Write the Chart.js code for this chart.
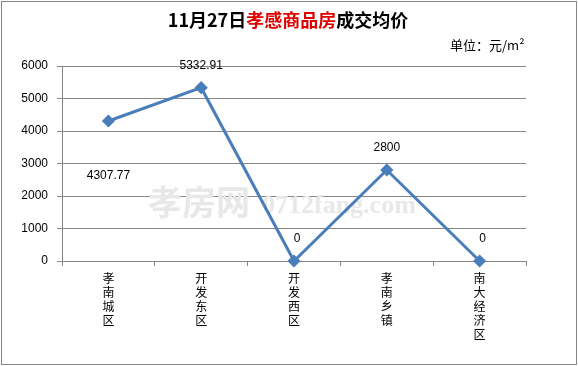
<!DOCTYPE html>
<html>
<head>
<meta charset="utf-8">
<script src="https://cdn.jsdelivr.net/npm/chart.js@4"></script>
<style>
  html, body { margin: 0; padding: 0; background: #fff; }
  #wrap { width: 578px; height: 366px; position: relative; }
</style>
</head>
<body>
<div id="wrap"><canvas id="myChart"></canvas></div>
<script>
const categories = ['孝南城区', '开发东区', '开发西区', '孝南乡镇', '南大经济区'];
const prices = [4307.77, 5332.91, 0, 2800, 0];
const priceLabels = ['4307.77', '5332.91', '0', '2800', '0'];
const yTicks = [0, 1000, 2000, 3000, 4000, 5000, 6000];

const cjk = '"Noto Sans CJK SC", "Liberation Sans", sans-serif';
const blue = '#4a7ebb';

// title, unit, watermark, frame
const decor = {
  id: 'decor',
  beforeDatasetsDraw(chart) {
    const ctx = chart.ctx;
    ctx.save();
    ctx.fillStyle = '#e8e8e8';
    ctx.textBaseline = 'alphabetic';
    ctx.font = 'bold 34px ' + cjk;
    ctx.fillText('孝房网', 148, 215);
    ctx.font = 'bold 26px "Liberation Serif", serif';
    ctx.fillText('0712fang.com', 262, 213);
    ctx.restore();
  },
  afterDraw(chart) {
    const ctx = chart.ctx;
    ctx.save();
    ctx.strokeStyle = '#868686';
    ctx.lineWidth = 1;
    ctx.strokeRect(1.5, 1.5, 575, 363);

    // title in three parts
    const parts = [['11月27日', '#000'], ['孝感商品房', '#e00000'], ['成交均价', '#000']];
    ctx.font = 'bold 18px ' + cjk;
    ctx.textBaseline = 'middle';
    let total = 0;
    parts.forEach(p => total += ctx.measureText(p[0]).width);
    let x = 288 - total / 2;
    parts.forEach(p => {
      ctx.fillStyle = p[1];
      ctx.fillText(p[0], x, 20);
      x += ctx.measureText(p[0]).width;
    });

    ctx.font = '13px ' + cjk;
    ctx.fillStyle = '#000';
    ctx.fillText('单位：元/m²', 450, 45);

    // value labels
    const meta = chart.getDatasetMeta(0);
    ctx.font = '12px "Liberation Sans", Arial, sans-serif';
    ctx.textAlign = 'center';
    const below = [true, false, false, false, false];
    meta.data.forEach((pt, i) => {
      const y = below[i] ? pt.y + 55 : pt.y - 22;
      const dx = i === 2 || i === 4 ? 3 : 0;
      ctx.fillText(priceLabels[i], pt.x + dx, y);
    });
    ctx.restore();
  }
};

new Chart(document.getElementById('myChart'), {
  type: 'line',
  data: {
    labels: categories.map(c => c.split('')),
    datasets: [{
      data: prices,
      borderColor: blue,
      backgroundColor: blue,
      borderWidth: 3,
      tension: 0,
      pointStyle: 'rectRot',
      pointRadius: 4.5,
      pointBackgroundColor: blue,
      pointBorderColor: blue,
      clip: false
    }]
  },
  options: {
    responsive: true,
    maintainAspectRatio: false,
    animation: false,
    layout: { padding: { top: 66, right: 52, left: 0, bottom: 0 } },
    plugins: { legend: { display: false }, tooltip: { enabled: false } },
    scales: {
      x: {
        offset: true,
        grid: { offset: true, drawOnChartArea: false, drawTicks: true, tickLength: 5, color: '#868686' },
        border: { color: '#868686' },
        ticks: {
          color: '#000',
          maxRotation: 0,
          padding: 5,
          font: { family: cjk, size: 12, lineHeight: 1.17 }
        },
        afterFit(s) { s.height = 105; }
      },
      y: {
        min: 0,
        max: 6000,
        afterBuildTicks(s) { s.ticks = yTicks.map(v => ({ value: v })); },
        grid: { color: '#868686', tickLength: 5 },
        border: { color: '#868686' },
        ticks: {
          color: '#000',
          padding: 9,
          callback: v => String(v),
          font: { family: '"Liberation Sans", Arial, sans-serif', size: 12 }
        },
        afterFit(s) { s.width = 62; }
      }
    }
  },
  plugins: [decor]
});
</script>
</body>
</html>
